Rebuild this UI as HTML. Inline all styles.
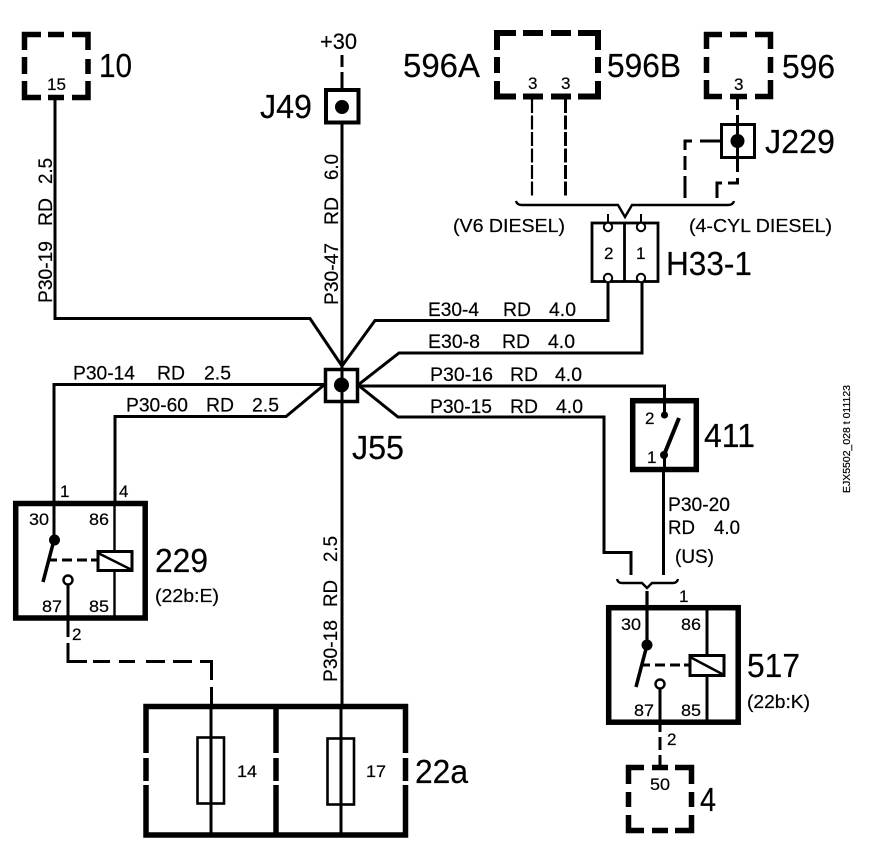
<!DOCTYPE html>
<html><head><meta charset="utf-8"><style>
html,body{margin:0;padding:0;background:#fff}
svg{display:block}
text{font-family:"Liberation Sans",Arial,sans-serif;fill:#000;stroke:#000;stroke-width:.2}
.s{font-size:19px}.m{font-size:18px}.l{font-size:33.500px}.n{font-size:17px}
.w{fill:none;stroke:#000;stroke-width:3}
.t{fill:none;stroke:#000;stroke-width:2}
.b{fill:none;stroke:#000;stroke-width:5.5}
.c{fill:none;stroke:#000;stroke-width:5.5}
</style></head><body>
<svg width="880" height="860" viewBox="0 0 880 860" xmlns="http://www.w3.org/2000/svg">
<rect width="880" height="860" fill="#fff"/>
<path class="c" d="M24.5 50V34.5H41M48 34.5H64M72 34.5H88V50M24.5 57V74M88 59V74M24.5 81V97.5H41M48 97.5H64M72 97.5H88V81"/>
<path class="c" d="M497 50V33H516M523 33H543M551 33H571M578 33H598V50M497 57V73M598 57V73M497 81V96.5H516M523 96.5H543M551 96.5H571M578 96.5H598V81" style="stroke-width:6"/>
<path class="c" d="M706.5 49V34.5H722M730 34.5H747M755 34.5H770.5V49M706.5 57V73M770.5 57V73M706.5 80V96.5H722M730 96.5H747M755 96.5H770.5V80"/>
<path class="c" d="M628.5 784V767.5H644M652 767.5H668M675 767.5H691.5V784M628.5 792V807M691.5 792V807M628.5 815V830.5H644M652 830.5H668M675 830.5H691.5V815"/>
<path class="w" d="M55 100V318.5H310L342 366"/>
<path class="w" d="M342 124V705"/>
<path class="w" d="M342 55V67M342 72V88"/>
<path class="w" d="M608 282V320.5H375L342 366"/>
<path class="w" d="M642 282V353H399L358 385"/>
<path class="w" d="M54 502V384.5H324"/>
<path class="w" d="M115 502V416.5H286L324 385"/>
<path class="w" d="M358 386H664.5V415"/>
<path class="w" d="M358 385L398 417H604V552.5H631V575"/>
<rect x="325.5" y="369.5" width="32" height="32" class="t" style="stroke-width:3.5"/>
<circle cx="341.5" cy="385" r="7.5"/>
<rect x="326" y="90" width="32.5" height="32.5" class="t" style="stroke-width:4"/>
<circle cx="342" cy="107" r="7"/>
<path class="w" d="M532 99V198" stroke-dasharray="14 2.5" style="stroke-width:2.2"/>
<path class="w" d="M565.5 99V198" stroke-dasharray="14 2.5"/>
<path class="w" d="M737.5 99V110M737.5 115V124M737.5 158V172M737.5 178V183H728M722 183H717V198"/>
<rect x="721.5" y="124.5" width="33" height="33" class="t" style="stroke-width:3"/>
<path class="w" d="M737.5 124V158"/>
<circle cx="737.5" cy="141" r="7"/>
<path class="w" d="M721 141H700M692 141H685V150M685 156V170M685 176V198"/>
<path class="t" style="stroke-width:2.4" d="M516 201Q517 205 522 205H618L625 217L632 205H728Q733 205 734 201"/>
<rect x="592" y="223" width="66" height="58.5" class="t" style="stroke-width:2.8"/>
<path class="t" style="stroke-width:2.8" d="M624.5 223V281"/>
<path class="t" d="M608 214V222M641 214V222"/>
<circle cx="608" cy="227" r="4.2" class="t" style="fill:#fff"/>
<circle cx="641" cy="227" r="4.2" class="t" style="fill:#fff"/>
<circle cx="608" cy="278" r="4.2" class="t" style="fill:#fff"/>
<circle cx="641" cy="278" r="4.2" class="t" style="fill:#fff"/>
<rect x="15.7" y="503.5" width="129.5" height="114.500" class="b"/>
<path class="w" d="M54 502V540"/>
<circle cx="54.5" cy="540" r="5.5"/>
<path d="M54 540L43 582" fill="none" stroke="#000" stroke-width="3.5"/>
<path class="w" d="M50 560H57M62 560H72M77 560H87M91 560H97"/>
<path class="w" d="M114.5 502V551M114.5 571V616" style="stroke-width:2.4"/>
<rect x="98" y="551.5" width="34" height="19" class="t" style="stroke-width:3"/>
<path class="t" style="stroke-width:2.5" d="M98 553L132 570"/>
<circle cx="68" cy="580" r="4.5" class="t" style="stroke-width:2.4"/>
<path class="w" d="M68 585V637M68 643V661.5H87M93 661.5H110M119 661.5H135M146 661.5H165M173 661.5H192M200 661.5H211.5V680M211.5 687V705"/>
<path class="b" d="M146 753V706.5H405.5V753M146 758V781M146 785V835H405.5V785M405.5 758V781M276 706.5V753M276 758V781M276 785V835"/>
<rect x="197.5" y="737.5" width="26.5" height="66" class="t" style="stroke-width:2.6"/>
<rect x="327.5" y="738.5" width="26.5" height="66" class="t" style="stroke-width:2.6"/>
<path class="w" d="M211 705V835M341 705V835"/>
<rect x="632.7" y="400.7" width="63.6" height="68.8" class="b"/>
<circle cx="664.5" cy="415" r="3.6"/>
<circle cx="664" cy="455" r="4"/>
<path d="M664 455L679 418" fill="none" stroke="#000" stroke-width="4"/>
<path class="w" d="M664.5 455V472M663.5 472V575"/>
<path class="t" style="stroke-width:2.4" d="M617 579Q618 583 622 583H642L647 588L652 583H673Q677 583 678 579"/>
<path class="w" d="M647 591V644" style="stroke-width:3.2"/>
<rect x="608.7" y="607.7" width="129.5" height="114.500" class="b"/>
<circle cx="647" cy="645" r="5.5"/>
<path d="M647 645L636 687" fill="none" stroke="#000" stroke-width="3.5"/>
<path class="w" d="M643 665H650M655 665H665M670 665H680M684 665H690"/>
<path class="w" d="M707 605V655M707 676V724"/>
<rect x="690" y="655.5" width="34" height="20" class="t" style="stroke-width:3"/>
<path class="t" style="stroke-width:2.5" d="M690 657L724 675"/>
<circle cx="660" cy="684" r="4.5" class="t" style="stroke-width:2.4"/>
<path class="w" d="M660 689V732M660 737V750M660 755V768"/>
<text class="l" x="99" y="77" textLength="33" lengthAdjust="spacingAndGlyphs">10</text>
<text class="l" x="403" y="77" textLength="77" lengthAdjust="spacingAndGlyphs">596A</text>
<text class="l" x="607" y="77" textLength="74" lengthAdjust="spacingAndGlyphs">596B</text>
<text class="l" x="782" y="78" textLength="53" lengthAdjust="spacingAndGlyphs">596</text>
<text class="l" x="260" y="118" textLength="52" lengthAdjust="spacingAndGlyphs">J49</text>
<text class="l" x="765" y="153" textLength="70" lengthAdjust="spacingAndGlyphs">J229</text>
<text class="l" x="666" y="275" textLength="86" lengthAdjust="spacingAndGlyphs">H33-1</text>
<text class="l" x="352" y="459" textLength="52" lengthAdjust="spacingAndGlyphs">J55</text>
<text class="l" x="704" y="447" textLength="51" lengthAdjust="spacingAndGlyphs">411</text>
<text class="l" x="155" y="572" textLength="53" lengthAdjust="spacingAndGlyphs">229</text>
<text class="l" x="747" y="677" textLength="53" lengthAdjust="spacingAndGlyphs">517</text>
<text class="l" x="415" y="783" textLength="53" lengthAdjust="spacingAndGlyphs">22a</text>
<text class="l" x="700" y="811" textLength="16" lengthAdjust="spacingAndGlyphs">4</text>
<text class="s" x="320" y="49" textLength="37" lengthAdjust="spacingAndGlyphs" style="font-size:22px">+30</text>
<text class="s" x="73" y="379.5" textLength="62" lengthAdjust="spacingAndGlyphs">P30-14</text>
<text class="s" x="157" y="379.5" textLength="28" lengthAdjust="spacingAndGlyphs">RD</text>
<text class="s" x="204" y="379.5" textLength="27" lengthAdjust="spacingAndGlyphs">2.5</text>
<text class="s" x="126" y="411.5" textLength="62" lengthAdjust="spacingAndGlyphs">P30-60</text>
<text class="s" x="206" y="411.5" textLength="28" lengthAdjust="spacingAndGlyphs">RD</text>
<text class="s" x="252" y="411.5" textLength="27" lengthAdjust="spacingAndGlyphs">2.5</text>
<text class="s" x="428" y="316" textLength="51" lengthAdjust="spacingAndGlyphs">E30-4</text>
<text class="s" x="503" y="316" textLength="28" lengthAdjust="spacingAndGlyphs">RD</text>
<text class="s" x="549" y="316" textLength="27" lengthAdjust="spacingAndGlyphs">4.0</text>
<text class="s" x="428" y="348" textLength="52" lengthAdjust="spacingAndGlyphs">E30-8</text>
<text class="s" x="502" y="348" textLength="28" lengthAdjust="spacingAndGlyphs">RD</text>
<text class="s" x="548" y="348" textLength="27" lengthAdjust="spacingAndGlyphs">4.0</text>
<text class="s" x="430" y="381" textLength="63" lengthAdjust="spacingAndGlyphs">P30-16</text>
<text class="s" x="510" y="381" textLength="28" lengthAdjust="spacingAndGlyphs">RD</text>
<text class="s" x="555" y="381" textLength="27" lengthAdjust="spacingAndGlyphs">4.0</text>
<text class="s" x="430" y="413" textLength="62" lengthAdjust="spacingAndGlyphs">P30-15</text>
<text class="s" x="510" y="413" textLength="28" lengthAdjust="spacingAndGlyphs">RD</text>
<text class="s" x="556" y="413" textLength="27" lengthAdjust="spacingAndGlyphs">4.0</text>
<text class="s" x="668" y="511" textLength="62" lengthAdjust="spacingAndGlyphs">P30-20</text>
<text class="s" x="668" y="534" textLength="27" lengthAdjust="spacingAndGlyphs">RD</text>
<text class="s" x="714" y="534" textLength="26" lengthAdjust="spacingAndGlyphs">4.0</text>
<text class="s" x="675" y="563" textLength="39" lengthAdjust="spacingAndGlyphs">(US)</text>
<text class="s" x="453" y="232" textLength="112" lengthAdjust="spacingAndGlyphs" style="font-size:18px">(V6 DIESEL)</text>
<text class="s" x="689" y="232" textLength="143" lengthAdjust="spacingAndGlyphs" style="font-size:18px">(4-CYL DIESEL)</text>
<text class="m" x="155" y="602" textLength="64" lengthAdjust="spacingAndGlyphs">(22b:E)</text>
<text class="m" x="747" y="708" textLength="63" lengthAdjust="spacingAndGlyphs">(22b:K)</text>
<g transform="translate(52 303) rotate(-90)"><text class="s" x="0" y="0" textLength="62" lengthAdjust="spacingAndGlyphs">P30-19</text><text class="s" x="77" y="0" textLength="28" lengthAdjust="spacingAndGlyphs">RD</text><text class="s" x="119" y="0" textLength="26" lengthAdjust="spacingAndGlyphs">2.5</text></g>
<g transform="translate(338 305) rotate(-90)"><text class="s" x="0" y="0" textLength="62" lengthAdjust="spacingAndGlyphs">P30-47</text><text class="s" x="80" y="0" textLength="28" lengthAdjust="spacingAndGlyphs">RD</text><text class="s" x="125" y="0" textLength="26" lengthAdjust="spacingAndGlyphs">6.0</text></g>
<g transform="translate(337 682) rotate(-90)"><text class="s" x="0" y="0" textLength="62" lengthAdjust="spacingAndGlyphs">P30-18</text><text class="s" x="75" y="0" textLength="27" lengthAdjust="spacingAndGlyphs">RD</text><text class="s" x="120" y="0" textLength="26" lengthAdjust="spacingAndGlyphs">2.5</text></g>
<text transform="translate(850 493) rotate(-90)" x="0" y="0" textLength="108" lengthAdjust="spacingAndGlyphs" style="font-size:10px">EJX5502_028 t 011123</text>
<text class="n" x="47" y="90" textLength="19" lengthAdjust="spacingAndGlyphs">15</text>
<text class="n" x="528" y="89">3</text>
<text class="n" x="561" y="89">3</text>
<text class="n" x="734" y="90">3</text>
<text class="n" x="604" y="259">2</text>
<text class="n" x="636" y="259">1</text>
<text class="n" x="60" y="497">1</text>
<text class="n" x="119" y="497">4</text>
<text class="n" x="29" y="525" textLength="20" lengthAdjust="spacingAndGlyphs">30</text>
<text class="n" x="89" y="525" textLength="20" lengthAdjust="spacingAndGlyphs">86</text>
<text class="n" x="42" y="612" textLength="20" lengthAdjust="spacingAndGlyphs">87</text>
<text class="n" x="89" y="612" textLength="20" lengthAdjust="spacingAndGlyphs">85</text>
<text class="n" x="72" y="640">2</text>
<text class="n" x="621" y="630" textLength="20" lengthAdjust="spacingAndGlyphs">30</text>
<text class="n" x="681" y="630" textLength="20" lengthAdjust="spacingAndGlyphs">86</text>
<text class="n" x="634" y="716" textLength="20" lengthAdjust="spacingAndGlyphs">87</text>
<text class="n" x="681" y="716" textLength="20" lengthAdjust="spacingAndGlyphs">85</text>
<text class="n" x="679" y="602">1</text>
<text class="n" x="667" y="745">2</text>
<text class="n" x="650" y="790" textLength="20" lengthAdjust="spacingAndGlyphs">50</text>
<text class="n" x="645" y="424">2</text>
<text class="n" x="647" y="463">1</text>
<text class="n" x="237" y="777" textLength="20" lengthAdjust="spacingAndGlyphs">14</text>
<text class="n" x="366" y="777" textLength="20" lengthAdjust="spacingAndGlyphs">17</text>
</svg>
</body></html>
